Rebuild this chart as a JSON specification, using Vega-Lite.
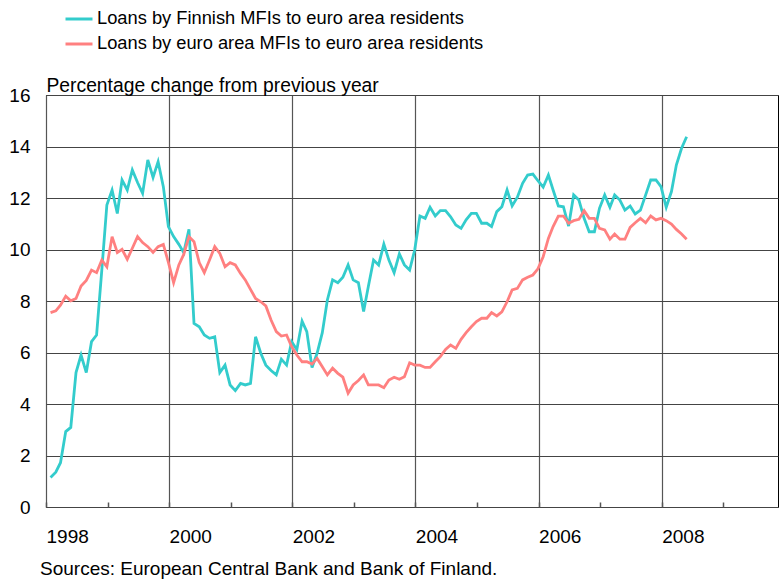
{
  "$schema": "https://vega.github.io/schema/vega-lite/v6.json",
  "autosize": "none",
  "width": 732,
  "height": 412,
  "padding": {"left": 46, "top": 95, "right": 2, "bottom": 77},
  "background": "white",
  "config": {
    "font": "Liberation Sans",
    "view": {"stroke": "#000", "strokeWidth": 1}
  },
  "title": {
    "text": "Sources: European Central Bank and Bank of Finland.",
    "orient": "bottom",
    "anchor": "start",
    "frame": "group",
    "dx": -6,
    "offset": 14,
    "fontSize": 19,
    "fontWeight": "normal",
    "color": "#000",
    "font": "Liberation Sans"
  },
  "data": {
    "values": [
      {"date": "1998-01-28", "fin": 1.15, "ea": 7.55},
      {"date": "1998-02-28", "fin": 1.35, "ea": 7.62},
      {"date": "1998-03-28", "fin": 1.72, "ea": 7.84},
      {"date": "1998-04-28", "fin": 2.93, "ea": 8.19},
      {"date": "1998-05-28", "fin": 3.09, "ea": 8.01},
      {"date": "1998-06-28", "fin": 5.22, "ea": 8.10},
      {"date": "1998-07-28", "fin": 5.90, "ea": 8.58},
      {"date": "1998-08-28", "fin": 5.22, "ea": 8.80},
      {"date": "1998-09-28", "fin": 6.42, "ea": 9.20},
      {"date": "1998-10-28", "fin": 6.68, "ea": 9.10},
      {"date": "1998-11-28", "fin": 9.20, "ea": 9.59},
      {"date": "1998-12-28", "fin": 11.73, "ea": 9.33},
      {"date": "1999-01-28", "fin": 12.31, "ea": 10.50},
      {"date": "1999-02-28", "fin": 11.40, "ea": 9.88},
      {"date": "1999-03-28", "fin": 12.70, "ea": 10.01},
      {"date": "1999-04-28", "fin": 12.31, "ea": 9.62},
      {"date": "1999-05-28", "fin": 13.09, "ea": 10.05},
      {"date": "1999-06-28", "fin": 12.60, "ea": 10.50},
      {"date": "1999-07-28", "fin": 12.18, "ea": 10.27},
      {"date": "1999-08-28", "fin": 13.48, "ea": 10.11},
      {"date": "1999-09-28", "fin": 12.80, "ea": 9.89},
      {"date": "1999-10-28", "fin": 13.41, "ea": 10.11},
      {"date": "1999-11-28", "fin": 12.44, "ea": 10.20},
      {"date": "1999-12-28", "fin": 10.89, "ea": 9.50},
      {"date": "2000-01-28", "fin": 10.50, "ea": 8.71},
      {"date": "2000-02-28", "fin": 10.20, "ea": 9.40},
      {"date": "2000-03-28", "fin": 9.88, "ea": 9.81},
      {"date": "2000-04-28", "fin": 10.78, "ea": 10.50},
      {"date": "2000-05-28", "fin": 7.13, "ea": 10.30},
      {"date": "2000-06-28", "fin": 7.00, "ea": 9.49},
      {"date": "2000-07-28", "fin": 6.68, "ea": 9.10},
      {"date": "2000-08-28", "fin": 6.55, "ea": 9.59},
      {"date": "2000-09-28", "fin": 6.61, "ea": 10.11},
      {"date": "2000-10-28", "fin": 5.22, "ea": 9.85},
      {"date": "2000-11-28", "fin": 5.51, "ea": 9.33},
      {"date": "2000-12-28", "fin": 4.74, "ea": 9.49},
      {"date": "2001-01-28", "fin": 4.52, "ea": 9.40},
      {"date": "2001-02-28", "fin": 4.80, "ea": 9.07},
      {"date": "2001-03-28", "fin": 4.74, "ea": 8.82},
      {"date": "2001-04-28", "fin": 4.80, "ea": 8.45},
      {"date": "2001-05-28", "fin": 6.61, "ea": 8.10},
      {"date": "2001-06-28", "fin": 5.97, "ea": 7.97},
      {"date": "2001-07-28", "fin": 5.51, "ea": 7.81},
      {"date": "2001-08-28", "fin": 5.30, "ea": 7.26},
      {"date": "2001-09-28", "fin": 5.13, "ea": 6.81},
      {"date": "2001-10-28", "fin": 5.74, "ea": 6.64},
      {"date": "2001-11-28", "fin": 5.51, "ea": 6.68},
      {"date": "2001-12-28", "fin": 6.42, "ea": 6.23},
      {"date": "2002-01-28", "fin": 6.11, "ea": 5.90},
      {"date": "2002-02-28", "fin": 7.22, "ea": 5.64},
      {"date": "2002-03-28", "fin": 6.81, "ea": 5.64},
      {"date": "2002-04-28", "fin": 5.42, "ea": 5.55},
      {"date": "2002-05-28", "fin": 5.97, "ea": 5.77},
      {"date": "2002-06-28", "fin": 6.77, "ea": 5.45},
      {"date": "2002-07-28", "fin": 8.04, "ea": 5.13},
      {"date": "2002-08-28", "fin": 8.82, "ea": 5.39},
      {"date": "2002-09-28", "fin": 8.71, "ea": 5.19},
      {"date": "2002-10-28", "fin": 8.92, "ea": 5.04},
      {"date": "2002-11-28", "fin": 9.40, "ea": 4.42},
      {"date": "2002-12-28", "fin": 8.82, "ea": 4.74},
      {"date": "2003-01-28", "fin": 8.71, "ea": 4.91},
      {"date": "2003-02-28", "fin": 7.59, "ea": 5.13},
      {"date": "2003-03-28", "fin": 8.56, "ea": 4.74},
      {"date": "2003-04-28", "fin": 9.59, "ea": 4.74},
      {"date": "2003-05-28", "fin": 9.40, "ea": 4.74},
      {"date": "2003-06-28", "fin": 10.21, "ea": 4.63},
      {"date": "2003-07-28", "fin": 9.59, "ea": 4.93},
      {"date": "2003-08-28", "fin": 9.10, "ea": 5.04},
      {"date": "2003-09-28", "fin": 9.83, "ea": 4.96},
      {"date": "2003-10-28", "fin": 9.40, "ea": 5.06},
      {"date": "2003-11-28", "fin": 9.20, "ea": 5.60},
      {"date": "2003-12-28", "fin": 9.98, "ea": 5.51},
      {"date": "2004-01-28", "fin": 11.30, "ea": 5.51},
      {"date": "2004-02-28", "fin": 11.21, "ea": 5.42},
      {"date": "2004-03-28", "fin": 11.64, "ea": 5.42},
      {"date": "2004-04-28", "fin": 11.30, "ea": 5.64},
      {"date": "2004-05-28", "fin": 11.51, "ea": 5.84},
      {"date": "2004-06-28", "fin": 11.51, "ea": 6.12},
      {"date": "2004-07-28", "fin": 11.27, "ea": 6.29},
      {"date": "2004-08-28", "fin": 10.95, "ea": 6.16},
      {"date": "2004-09-28", "fin": 10.82, "ea": 6.51},
      {"date": "2004-10-28", "fin": 11.15, "ea": 6.77},
      {"date": "2004-11-28", "fin": 11.40, "ea": 7.00},
      {"date": "2004-12-28", "fin": 11.40, "ea": 7.20},
      {"date": "2005-01-28", "fin": 11.02, "ea": 7.33},
      {"date": "2005-02-28", "fin": 11.02, "ea": 7.33},
      {"date": "2005-03-28", "fin": 10.89, "ea": 7.55},
      {"date": "2005-04-28", "fin": 11.47, "ea": 7.42},
      {"date": "2005-05-28", "fin": 11.66, "ea": 7.58},
      {"date": "2005-06-28", "fin": 12.31, "ea": 7.97},
      {"date": "2005-07-28", "fin": 11.69, "ea": 8.43},
      {"date": "2005-08-28", "fin": 12.03, "ea": 8.49},
      {"date": "2005-09-28", "fin": 12.57, "ea": 8.82},
      {"date": "2005-10-28", "fin": 12.89, "ea": 8.92},
      {"date": "2005-11-28", "fin": 12.93, "ea": 9.01},
      {"date": "2005-12-28", "fin": 12.67, "ea": 9.25},
      {"date": "2006-01-28", "fin": 12.42, "ea": 9.72},
      {"date": "2006-02-28", "fin": 12.89, "ea": 10.43},
      {"date": "2006-03-28", "fin": 12.31, "ea": 10.89},
      {"date": "2006-04-28", "fin": 11.69, "ea": 11.30},
      {"date": "2006-05-28", "fin": 11.66, "ea": 11.30},
      {"date": "2006-06-28", "fin": 10.91, "ea": 11.02},
      {"date": "2006-07-28", "fin": 12.12, "ea": 11.12},
      {"date": "2006-08-28", "fin": 11.92, "ea": 11.17},
      {"date": "2006-09-28", "fin": 11.21, "ea": 11.51},
      {"date": "2006-10-28", "fin": 10.69, "ea": 11.21},
      {"date": "2006-11-28", "fin": 10.69, "ea": 11.21},
      {"date": "2006-12-28", "fin": 11.60, "ea": 10.82},
      {"date": "2007-01-28", "fin": 12.12, "ea": 10.76},
      {"date": "2007-02-28", "fin": 11.64, "ea": 10.40},
      {"date": "2007-03-28", "fin": 12.12, "ea": 10.60},
      {"date": "2007-04-28", "fin": 11.92, "ea": 10.40},
      {"date": "2007-05-28", "fin": 11.53, "ea": 10.40},
      {"date": "2007-06-28", "fin": 11.69, "ea": 10.86},
      {"date": "2007-07-28", "fin": 11.38, "ea": 11.04},
      {"date": "2007-08-28", "fin": 11.53, "ea": 11.21},
      {"date": "2007-09-28", "fin": 12.12, "ea": 11.04},
      {"date": "2007-10-28", "fin": 12.70, "ea": 11.30},
      {"date": "2007-11-28", "fin": 12.70, "ea": 11.15},
      {"date": "2007-12-28", "fin": 12.44, "ea": 11.21},
      {"date": "2008-01-28", "fin": 11.64, "ea": 11.12},
      {"date": "2008-02-28", "fin": 12.25, "ea": 10.99},
      {"date": "2008-03-28", "fin": 13.28, "ea": 10.78},
      {"date": "2008-04-28", "fin": 13.93, "ea": 10.60},
      {"date": "2008-05-28", "fin": 14.38, "ea": 10.40}
    ]
  },
  "transform": [
    {"fold": ["fin", "ea"], "as": ["series", "value"]}
  ],
  "mark": {"type": "line", "strokeWidth": 2.8, "clip": true},
  "encoding": {
    "x": {
      "field": "date",
      "type": "temporal",
      "scale": {
        "type": "utc",
        "domain": [
          {"year": 1998, "month": 1, "date": 1, "utc": true},
          {"year": 2009, "month": 11, "date": 21, "utc": true}
        ]
      },
      "axis": {
        "title": null,
        "domain": false,
        "values": [
          {"year": 1998, "month": 1, "date": 1, "utc": true},
          {"year": 1999, "month": 1, "date": 1, "utc": true},
          {"year": 2000, "month": 1, "date": 1, "utc": true},
          {"year": 2001, "month": 1, "date": 1, "utc": true},
          {"year": 2002, "month": 1, "date": 1, "utc": true},
          {"year": 2003, "month": 1, "date": 1, "utc": true},
          {"year": 2004, "month": 1, "date": 1, "utc": true},
          {"year": 2005, "month": 1, "date": 1, "utc": true},
          {"year": 2006, "month": 1, "date": 1, "utc": true},
          {"year": 2007, "month": 1, "date": 1, "utc": true},
          {"year": 2008, "month": 1, "date": 1, "utc": true},
          {"year": 2009, "month": 1, "date": 1, "utc": true}
        ],
        "labelExpr": "utcyear(datum.value) % 2 == 0 ? utcFormat(datum.value, '%Y') : ''",
        "labelAlign": "left",
        "labelFontSize": 19,
        "labelColor": "#000",
        "labelPadding": 25,
        "labelFlush": false,
        "labelOverlap": false,
        "ticks": true,
        "tickSize": -5,
        "tickColor": "#555",
        "tickWidth": 1.5,
        "grid": true,
        "gridColor": {"condition": {"test": "utcyear(datum.value) % 2 == 0", "value": "#555"}, "value": "transparent"},
        "gridWidth": 1.2
      }
    },
    "y": {
      "field": "value",
      "type": "quantitative",
      "scale": {"domain": [0, 16], "nice": false, "zero": true},
      "axis": {
        "values": [0, 2, 4, 6, 8, 10, 12, 14, 16],
        "title": "Percentage change from previous year",
        "titleAngle": 0,
        "titleX": 0,
        "titleY": -4,
        "titleAlign": "left",
        "titleBaseline": "alphabetic",
        "titleFontSize": 19.3,
        "titleFontWeight": "normal",
        "titleColor": "#000",
        "titleFont": "Liberation Sans",
        "titleLimit": 0,
        "domain": false,
        "ticks": false,
        "labelPadding": 16,
        "labelFontSize": 19,
        "labelColor": "#000",
        "grid": true,
        "gridColor": "#444",
        "gridWidth": 1
      }
    },
    "color": {
      "field": "series",
      "type": "nominal",
      "scale": {"domain": ["fin", "ea"], "range": ["#33CCCC", "#FF8080"]},
      "legend": {
        "title": null,
        "orient": "none",
        "legendX": 18,
        "legendY": -91,
        "direction": "vertical",
        "symbolType": "stroke",
        "symbolSize": 729,
        "symbolStrokeWidth": 3,
        "labelFontSize": 18.3,
        "labelColor": "#000",
        "labelOffset": 3,
        "labelLimit": 0,
        "rowPadding": 1,
        "padding": 0,
        "labelExpr": "datum.value == 'fin' ? 'Loans by Finnish MFIs to euro area residents' : 'Loans by euro area MFIs to euro area residents'"
      }
    }
  }
}
